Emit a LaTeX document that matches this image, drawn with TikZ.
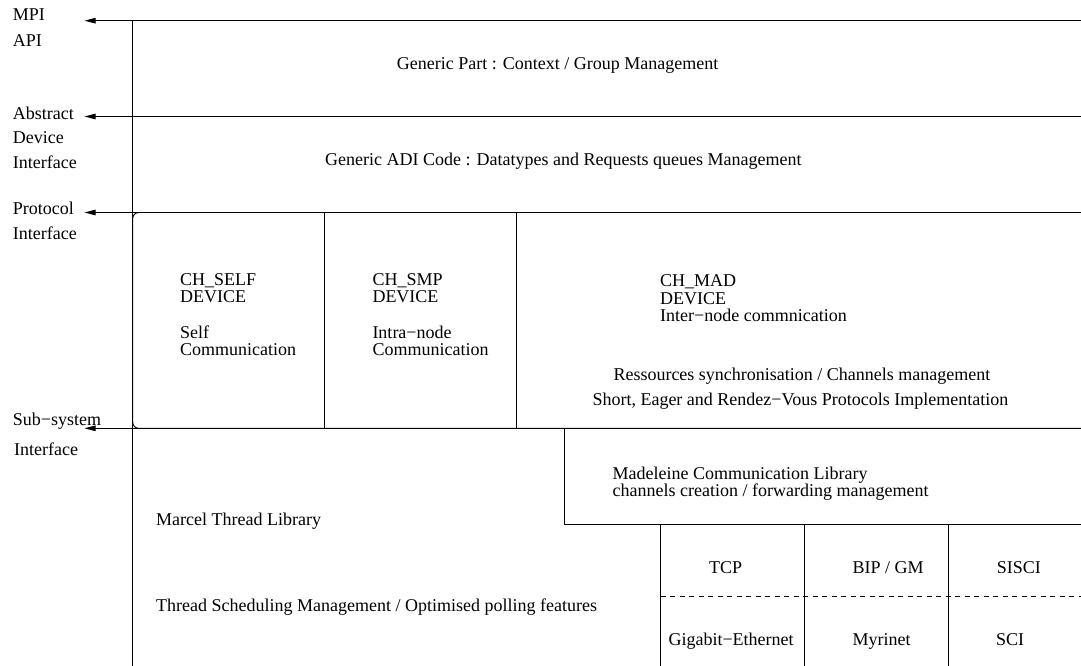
\documentclass[tikz,border=0pt]{standalone}
\usepackage{fontspec}
\setmainfont{Liberation Serif}
\usetikzlibrary{arrows.meta}
\begin{document}
\begin{tikzpicture}[x=1pt,y=-1pt,
  ln/.style={line width=0.9pt},
  arr/.style={ln,-{Triangle[length=11pt,width=5.5pt]}},
  dsh/.style={ln,dash pattern=on 5pt off 4.5pt},
  txt/.style={font=\fontsize{18}{17.5}\selectfont,align=left,inner sep=0pt,anchor=north west},
  lbl/.style={font=\fontsize{18}{24.5}\selectfont,align=left,inner sep=0pt,anchor=north west}]
\useasboundingbox (0,0) rectangle (1081,666);
% coordinates for interface arrows
\coordinate (r1) at (1081,20.7);  \coordinate (t1) at (84.5,20.7);
\coordinate (r2) at (1081,116.5); \coordinate (t2) at (84.5,116.5);
\coordinate (r3) at (1081,212.5); \coordinate (t3) at (84.5,212.5);
\coordinate (r4) at (1081,428.3); \coordinate (t4) at (84.5,428.3);
\coordinate (vtop) at (132.7,20.7); \coordinate (vbot) at (132.7,666);
% left labels
\node[lbl] (mpi) at (12.7,9) {MPI\\[1pt]API};
\node[lbl] (adil) at (12.7,106.5) {Abstract\\Device\\Interface};
\node[lbl] (prot) at (12.7,202) {Protocol\\Interface};
\node[lbl] (subs) at (12.7,413) {Sub−system\\[5.5pt]\hspace*{1.3pt}Interface};
% arrows and main vertical line
\draw[arr] (r1) -- (t1);
\draw[arr] (r2) -- (t2);
\draw[arr] (r3) -- (t3);
\draw[arr] (r4) -- (t4);
\draw[ln] (vtop) -- (vbot);
% device box with rounded left corners
\draw[ln,rounded corners=6pt] (r3) -- (132.7,212.5) -- (132.7,428.3) -- (r4);
\coordinate (d1t) at (324.3,212.5); \coordinate (d1b) at (324.3,428.3);
\coordinate (d2t) at (516.7,212.5); \coordinate (d2b) at (516.7,428.3);
\draw[ln] (d1t) -- (d1b);
\draw[ln] (d2t) -- (d2b);
% Madeleine box
\coordinate (m1) at (564.5,428.3); \coordinate (m2) at (564.5,524.5); \coordinate (m3) at (1081,524.5);
\draw[ln] (m1) -- (m2) -- (m3);
% network columns
\coordinate (n1t) at (660.7,524.5); \coordinate (n1b) at (660.7,666);
\coordinate (n2t) at (804.3,524.5); \coordinate (n2b) at (804.3,666);
\coordinate (n3t) at (948.3,524.5); \coordinate (n3b) at (948.3,666);
\draw[ln] (n1t) -- (n1b);
\draw[ln] (n2t) -- (n2b);
\draw[ln] (n3t) -- (n3b);
\coordinate (dl) at (660.7,596.7); \coordinate (dr) at (1081,596.7);
\draw[dsh] (dl) -- (dr);
% texts
\node[txt] (gp) at (396.7,57) {Generic Part : Context / Group Management};
\node[txt] (gadi) at (325,153) {Generic ADI Code : Datatypes and Requests queues Management};
\node[txt] (self) at (180,273) {CH\_SELF\\DEVICE\\[18pt]Self\\Communication};
\node[txt] (smp) at (372.3,273) {CH\_SMP\\DEVICE\\[18pt]Intra−node\\Communication};
\node[txt] (mad) at (660,274.7) {CH\_MAD\\DEVICE\\Inter−node commnication};
\node[txt] (res) at (613.3,368) {Ressources synchronisation / Channels management};
\node[txt] (short) at (592.3,393) {Short, Eager and Rendez−Vous Protocols Implementation};
\node[txt] (madl) at (612.5,466.5) {Madeleine Communication Library\\channels creation / forwarding management};
\node[txt] (marcel) at (156,513) {Marcel Thread Library};
\node[txt] (thr) at (156,599) {Thread Scheduling Management / Optimised polling features};
\node[txt] (tcp) at (709,561.5) {TCP};
\node[txt] (bip) at (852.3,561.5) {BIP / GM};
\node[txt] (sisci) at (996.7,561.5) {SISCI};
\node[txt] (gig) at (668.3,633.3) {Gigabit−Ethernet};
\node[txt] (myr) at (852.3,633.3) {Myrinet};
\node[txt] (sci) at (996,633.3) {SCI};
\end{tikzpicture}
\end{document}
